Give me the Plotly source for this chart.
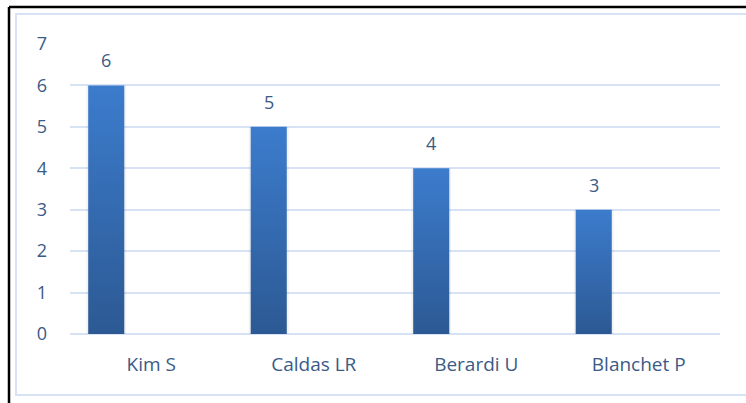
import plotly.graph_objects as go

categories = ["Kim S", "Caldas LR", "Berardi U", "Blanchet P"]
values = [6, 5, 4, 3]
y_ticks = [0, 1, 2, 3, 4, 5, 6, 7]

W, H = 746, 403
L, R, T, B = 70, 26, 44, 69
pw, ph = W - L - R, H - T - B

TEXT = "#3b5a86"
GRID = "#d7e3f4"
BAR_W = 0.222
BAR_OFF = -0.388

fig = go.Figure()

for i, (cat, v) in enumerate(zip(categories, values)):
    x0 = i + BAR_OFF
    x1 = x0 + BAR_W
    # soft shadow
    fig.add_trace(go.Scatter(
        x=[x0 - 0.012, x1 + 0.012, x1 + 0.012, x0 - 0.012, x0 - 0.012],
        y=[0, 0, v, v, 0], fill="toself", mode="none",
        fillcolor="rgba(0,0,0,0.05)", hoverinfo="skip", showlegend=False))
    fig.add_trace(go.Scatter(
        x=[x0, x1, x1, x0, x0], y=[0, 0, v, v, 0],
        fill="toself", mode="none", name=cat,
        fillgradient=dict(type="vertical",
                          colorscale=[[0, "#2c5993"], [1, "#3c7ccd"]]),
        showlegend=False, hoverinfo="x+y"))
    fig.add_annotation(x=i + BAR_OFF + BAR_W / 2, y=v, text=str(v),
                       showarrow=False, yanchor="bottom", yshift=11,
                       font=dict(family="Open Sans", size=18, color=TEXT))

fig.update_layout(
    width=W, height=H,
    margin=dict(l=L, r=R, t=T, b=B),
    paper_bgcolor="white", plot_bgcolor="white",
    showlegend=False,
    xaxis=dict(range=[-0.5, 3.5], tickvals=list(range(len(categories))),
               ticktext=categories, showgrid=False, zeroline=False,
               ticks="", ticklabelstandoff=17,
               tickfont=dict(family="Open Sans", size=19, color=TEXT),
               fixedrange=True),
    yaxis=dict(range=[0, 7], tickvals=y_ticks, showgrid=True,
               gridcolor=GRID, gridwidth=2, zeroline=True,
               zerolinecolor=GRID, zerolinewidth=2,
               ticks="", ticklabelstandoff=22,
               tickfont=dict(family="Open Sans", size=18, color=TEXT),
               fixedrange=True),
    shapes=[
        # light blue inner frame
        dict(type="rect", xref="paper", yref="paper", layer="below",
             x0=(16 - L) / pw, x1=(760 - L) / pw,
             y0=(H - 395 - B) / ph, y1=(H - 14 - B) / ph,
             line=dict(color=GRID, width=2), fillcolor="rgba(0,0,0,0)"),
        # black outer border (top and left)
        dict(type="line", xref="paper", yref="paper",
             x0=(9 - L) / pw, x1=(760 - L) / pw,
             y0=(H - 7 - B) / ph, y1=(H - 7 - B) / ph,
             line=dict(color="black", width=2.5)),
        dict(type="line", xref="paper", yref="paper",
             x0=(9 - L) / pw, x1=(9 - L) / pw,
             y0=(H - 7 - B) / ph, y1=(-10 - B) / ph,
             line=dict(color="black", width=2.5)),
    ],
)

fig.write_html("out.html",
               config={"displayModeBar": False},
               post_script="document.body.style.margin='0';"
                           "document.body.style.overflow='hidden';")
